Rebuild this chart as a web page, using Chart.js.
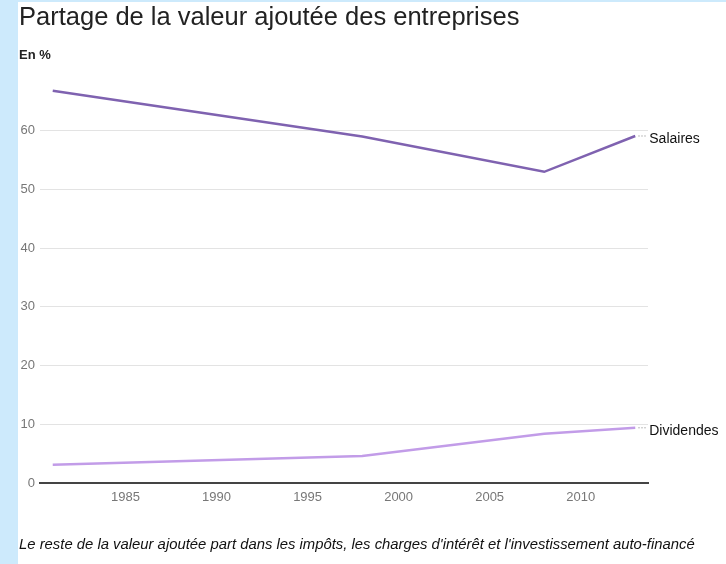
<!DOCTYPE html>
<html>
<head>
<meta charset="utf-8">
<script src="https://cdn.jsdelivr.net/npm/chart.js@4"></script>
<style>
  html, body { margin:0; padding:0; width:726px; height:564px; overflow:hidden; background:#cdeafc; font-family:"Liberation Sans", Arial, sans-serif; }
  #white { position:absolute; left:18px; top:2px; right:0; bottom:0; background:#fff; }
  #wrap { position:absolute; left:0; top:0; width:726px; height:564px; }
  .t { position:absolute; white-space:nowrap; color:#111; }
  #title { left:19px; top:2px; font-size:25.5px; color:#222; }
  #unit { left:19px; top:47px; font-size:13px; font-weight:bold; color:#222; }
  #foot { left:19px; top:536px; font-size:14.85px; font-style:italic; color:#111; }
</style>
</head>
<body>
<div id="white"></div>
<div id="wrap"><canvas id="c" width="726" height="564"></canvas></div>
<div class="t" id="title">Partage de la valeur ajoutée des entreprises</div>
<div class="t" id="unit">En %</div>
<div class="t" id="foot">Le reste de la valeur ajoutée part dans les impôts, les charges d'intérêt et l'investissement auto-financé</div>
<script>
const years = [1981, 1998, 2008, 2013];
const salaires = [66.8, 59.0, 53.0, 59.1];
const dividendes = [3.1, 4.6, 8.4, 9.4];
const seriesNames = ["Salaires", "Dividendes"];
const xTicks = [1985, 1990, 1995, 2000, 2005, 2010];
const yTicks = [0, 10, 20, 30, 40, 50, 60];

const endLabels = {
  id: 'endLabels',
  afterDatasetsDraw(chart) {
    const ctx = chart.ctx;
    const xs = chart.scales.x, ys = chart.scales.y;
    chart.data.datasets.forEach((ds) => {
      const last = ds.data[ds.data.length - 1];
      const px = xs.getPixelForValue(last.x);
      const py = ys.getPixelForValue(last.y);
      ctx.save();
      ctx.strokeStyle = '#aaa';
      ctx.lineWidth = 1;
      ctx.setLineDash([1.5, 1.5]);
      ctx.beginPath();
      ctx.moveTo(px + 3, py);
      ctx.lineTo(px + 11, py);
      ctx.stroke();
      ctx.setLineDash([]);
      ctx.fillStyle = '#111';
      ctx.font = '14px "Liberation Sans", Arial, sans-serif';
      ctx.textAlign = 'left';
      ctx.textBaseline = 'middle';
      ctx.fillText(ds.label, px + 14, py + 3);
      ctx.restore();
    });
  }
};

new Chart(document.getElementById('c'), {
  type: 'line',
  data: {
    datasets: [
      { label: seriesNames[0], data: years.map((y, i) => ({ x: y, y: salaires[i] })), borderColor: '#7f62b0', borderWidth: 2.5, pointRadius: 0, tension: 0 },
      { label: seriesNames[1], data: years.map((y, i) => ({ x: y, y: dividendes[i] })), borderColor: '#c29ce8', borderWidth: 2.5, pointRadius: 0, tension: 0 }
    ]
  },
  options: {
    responsive: false,
    animation: false,
    events: [],
    layout: { padding: { left: 0, right: 78, top: 72, bottom: 61 } },
    plugins: { legend: { display: false }, tooltip: { enabled: false } },
    scales: {
      x: {
        type: 'linear', min: 1980.3, max: 2013.7,
        afterBuildTicks: (s) => { s.ticks = xTicks.map(v => ({ value: v })); },
        afterFit: (s) => { s.height = 20; },
        grid: { display: false, drawTicks: false },
        border: { display: true, color: '#444', width: 2 },
        ticks: { color: '#777', font: { size: 13, family: '"Liberation Sans", Arial, sans-serif' }, padding: 7, maxRotation: 0, callback: v => String(v) }
      },
      y: {
        min: 0, max: 70,
        afterBuildTicks: (s) => { s.ticks = yTicks.map(v => ({ value: v })); },
        afterFit: (s) => { s.width = 40; },
        grid: { color: '#e3e3e3', lineWidth: 1, drawTicks: false },
        border: { display: false },
        ticks: { color: '#777', font: { size: 13, family: '"Liberation Sans", Arial, sans-serif' }, padding: 5, callback: v => String(v) }
      }
    }
  },
  plugins: [endLabels]
});
</script>
</body>
</html>
